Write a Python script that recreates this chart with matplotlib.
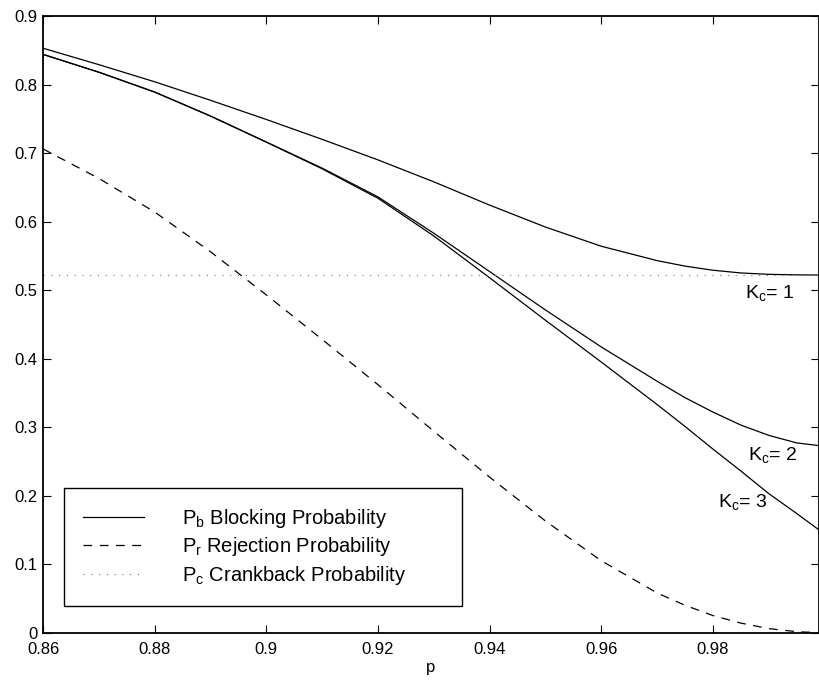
import matplotlib
matplotlib.use("Agg")
from matplotlib import pyplot as plt
from matplotlib.ticker import FixedLocator, FuncFormatter

plt.rcParams['font.family'] = ['Liberation Sans', 'DejaVu Sans']
plt.rcParams['mathtext.fontset'] = 'custom'
plt.rcParams['mathtext.rm'] = 'Liberation Sans'
plt.rcParams['mathtext.it'] = 'Liberation Sans'

# p values (x axis)
p = [0.86, 0.87, 0.88, 0.89, 0.90, 0.91, 0.92, 0.93, 0.94, 0.95,
     0.96, 0.97, 0.975, 0.98, 0.985, 0.99, 0.995, 0.999]

# blocking probability for Kc = 1, 2, 3
pb_k1 = [0.853, 0.829, 0.804, 0.777, 0.749, 0.720, 0.690, 0.658, 0.624, 0.592,
         0.564, 0.543, 0.535, 0.529, 0.525, 0.523, 0.5222, 0.522]
pb_k2 = [0.844, 0.818, 0.789, 0.754, 0.716, 0.678, 0.636, 0.583, 0.527, 0.471,
         0.417, 0.367, 0.343, 0.322, 0.303, 0.288, 0.277, 0.273]
pb_k3 = [0.844, 0.818, 0.789, 0.754, 0.716, 0.677, 0.634, 0.579, 0.518, 0.456,
         0.395, 0.333, 0.301, 0.268, 0.236, 0.203, 0.174, 0.150]

# rejection probability
pr = [0.706, 0.663, 0.614, 0.556, 0.493, 0.428, 0.362, 0.294, 0.227, 0.163,
      0.105, 0.058, 0.040, 0.025, 0.014, 0.006, 0.0015, 0.0]

# crankback probability (constant)
pc = [0.522] * len(p)

xticks = [0.86, 0.88, 0.90, 0.92, 0.94, 0.96, 0.98]
yticks = [0, 0.1, 0.2, 0.3, 0.4, 0.5, 0.6, 0.7, 0.8, 0.9]

fig = plt.figure(figsize=(8.19, 6.82), dpi=100)
ax = fig.add_axes([43 / 819, (682 - 632.7) / 682, 1 - 43 / 819, (632.7 - 16) / 682])

ax.plot(p, pb_k1, color='black', lw=0.9, label=r'$\mathregular{P_b}$ Blocking Probability')
ax.plot(p, pb_k2, color='black', lw=0.9)
ax.plot(p, pb_k3, color='black', lw=0.9)
ax.plot(p, pr, color='black', lw=0.9, linestyle=(0, (7, 6)),
        label=r'$\mathregular{P_r}$ Rejection Probability')
ax.plot(p, pc, color='0.45', lw=0.8, linestyle=(0, (1, 6)),
        label=r'$\mathregular{P_c}$ Crankback Probability')

ax.text(0.9857, 0.496, r'$\mathregular{K_c}$= 1', fontsize=14, ha='left', va='center')
ax.text(0.9863, 0.259, r'$\mathregular{K_c}$= 2', fontsize=14, ha='left', va='center')
ax.text(0.9809, 0.191, r'$\mathregular{K_c}$= 3', fontsize=14, ha='left', va='center')

ax.set_xlim(0.86, 0.999)
ax.set_ylim(0, 0.9)
ax.xaxis.set_major_locator(FixedLocator(xticks))
ax.yaxis.set_major_locator(FixedLocator(yticks))
fmt = FuncFormatter(lambda v, pos: '%g' % round(v, 4))
ax.xaxis.set_major_formatter(fmt)
ax.yaxis.set_major_formatter(fmt)
ax.tick_params(direction='in', length=5.5, width=0.8, top=True, right=True,
               labelsize=12)
ax.tick_params(axis='x', pad=6.5)
ax.tick_params(axis='y', pad=4)
for s in ax.spines.values():
    s.set_linewidth(1.3)
ax.set_xlabel('p', fontsize=12, labelpad=2)

leg = ax.legend(loc='lower left', bbox_to_anchor=(0.027, 0.043, 0.513, 0.1835),
                mode='expand', borderaxespad=0, fontsize=14.5, handlelength=3.0,
                handletextpad=1.9, labelspacing=0.28, borderpad=0.95,
                fancybox=False, framealpha=1, edgecolor='black')
leg.get_frame().set_linewidth(1.0)

fig.savefig('out.png', dpi=100)
